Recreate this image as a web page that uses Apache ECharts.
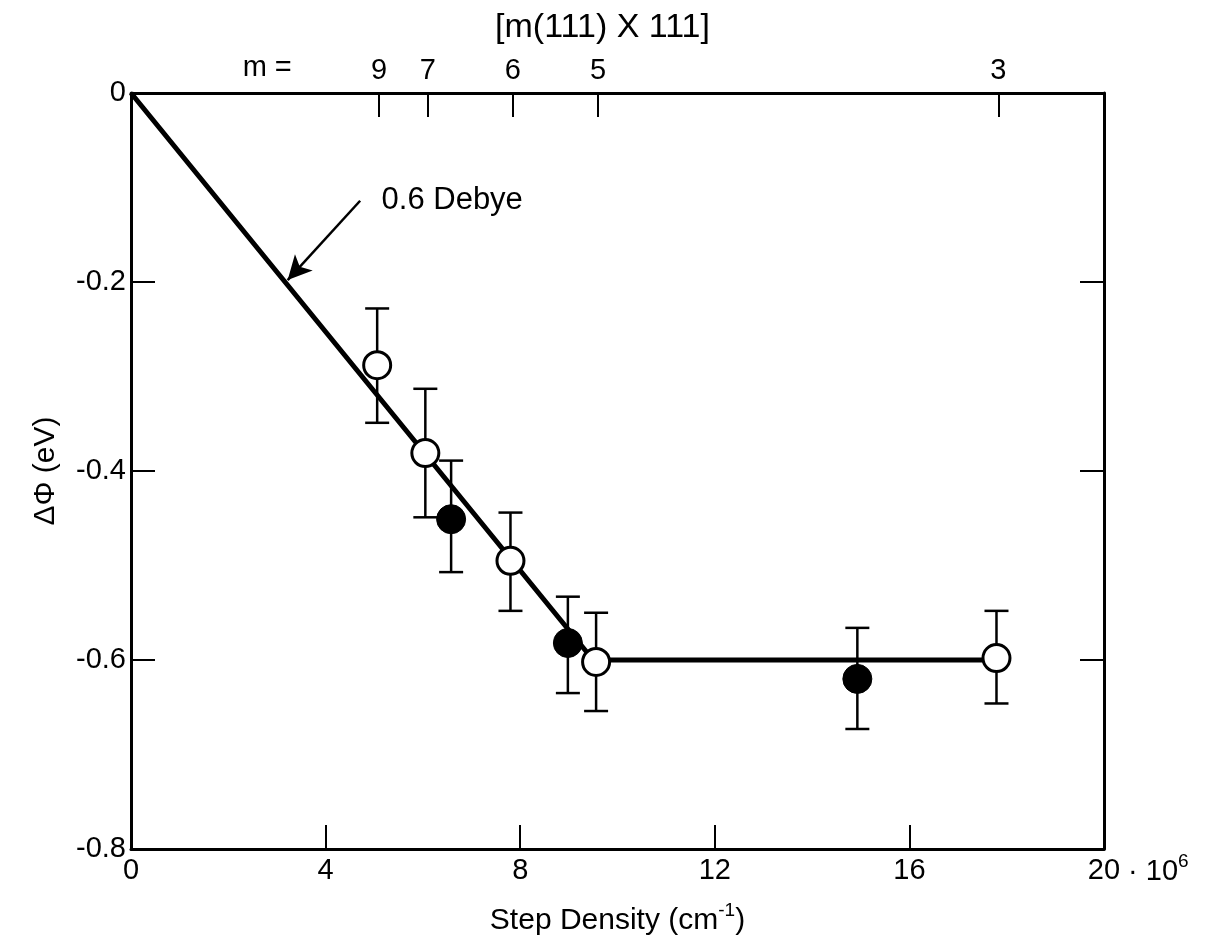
<!DOCTYPE html>
<html>
<head>
<meta charset="utf-8">
<script src="https://cdn.jsdelivr.net/npm/echarts@6/dist/echarts.min.js"></script>
<style>
  html, body { margin: 0; padding: 0; background: #fff; }
  #chart { width: 1205px; height: 951px; }
</style>
</head>
<body>
<div id="chart"></div>
<script>
// Step density in units of 10^6 cm^-1, work-function change in eV
const openX    = [5.06, 6.05, 7.80, 9.56, 17.79];
const openY    = [-0.288, -0.381, -0.495, -0.602, -0.598];
const openLow  = [-0.349, -0.449, -0.548, -0.654, -0.646];
const openHigh = [-0.228, -0.313, -0.444, -0.550, -0.548];

const filledX    = [6.58, 8.98, 14.93];
const filledY    = [-0.451, -0.582, -0.620];
const filledLow  = [-0.507, -0.635, -0.673];
const filledHigh = [-0.389, -0.533, -0.566];

// Linear dipole fit followed by the saturation plateau
const fitX = [0, 9.5, 17.79];
const fitY = [0, -0.60, -0.60];

// Terrace width m of the m(111) x (111) vicinal surfaces
const mPositions = [5.1, 6.1, 7.85, 9.6, 17.83];
const mLabels    = ['9', '7', '6', '5', '3'];

const FONT = '"Liberation Sans", Arial, Helvetica, sans-serif';
const FS = 29;
const BLACK = '#000';

const chart = echarts.init(document.getElementById('chart'), null, { renderer: 'canvas' });

const zip = (xs, ys) => xs.map((x, i) => [x, ys[i]]);
const errData = (xs, lo, hi) => xs.map((x, i) => [x, lo[i], hi[i]]);

function renderErrorBar(params, api) {
  const x = api.value(0);
  const top = api.coord([x, api.value(2)]);
  const bot = api.coord([x, api.value(1)]);
  const hw = 12;
  const st = { stroke: BLACK, lineWidth: 2.5 };
  return {
    type: 'group',
    children: [
      { type: 'line', shape: { x1: top[0], y1: top[1], x2: bot[0], y2: bot[1] }, style: st },
      { type: 'line', shape: { x1: top[0] - hw, y1: top[1], x2: top[0] + hw, y2: top[1] }, style: st },
      { type: 'line', shape: { x1: bot[0] - hw, y1: bot[1], x2: bot[0] + hw, y2: bot[1] }, style: st }
    ]
  };
}

const axisLineStyle = { color: BLACK, width: 3 };
const tickStyle = { color: BLACK, width: 2 };

const option = {
  animation: false,
  backgroundColor: '#fff',
  textStyle: { fontFamily: FONT, color: BLACK },
  title: {
    text: '[m(111) X 111]',
    left: 'center',
    top: 6,
    textStyle: { fontFamily: FONT, fontSize: 34, fontWeight: 'normal', color: BLACK }
  },
  grid: { left: 131, right: 101, top: 93, bottom: 102, containLabel: false },
  xAxis: [
    {
      type: 'value', position: 'bottom', min: 0, max: 20, interval: 4,
      axisLine: { show: true, onZero: false, lineStyle: axisLineStyle },
      axisTick: { show: true, inside: true, length: 24, lineStyle: tickStyle },
      splitLine: { show: false },
      axisLabel: {
        margin: 7, fontFamily: FONT, fontSize: FS, color: BLACK,
        formatter: v => String(v)
      },
      name: 'Step Density (cm{sup|-1})',
      nameLocation: 'middle',
      nameGap: 52,
      nameTextStyle: {
        fontFamily: FONT, fontSize: 30, color: BLACK,
        rich: { sup: { fontFamily: FONT, fontSize: 19, color: BLACK, padding: [0, 0, 20, 0] } }
      }
    },
    {
      type: 'value', position: 'top', min: 0, max: 20,
      axisLine: { show: true, onZero: false, lineStyle: axisLineStyle },
      axisTick: { show: true, inside: true, length: 24, lineStyle: tickStyle, customValues: mPositions },
      splitLine: { show: false },
      axisLabel: {
        show: true, margin: 8, fontFamily: FONT, fontSize: FS, color: BLACK,
        customValues: mPositions,
        formatter: v => {
          let best = 0;
          mPositions.forEach((p, i) => { if (Math.abs(p - v) < Math.abs(mPositions[best] - v)) best = i; });
          return mLabels[best];
        }
      }
    }
  ],
  yAxis: [
    {
      type: 'value', position: 'left', min: -0.8, max: 0, interval: 0.2,
      axisLine: { show: true, onZero: false, lineStyle: axisLineStyle },
      axisTick: { show: true, inside: true, length: 24, lineStyle: tickStyle },
      splitLine: { show: false },
      axisLabel: {
        margin: 5, fontFamily: FONT, fontSize: FS, color: BLACK,
        formatter: v => (Math.abs(v) < 1e-9 ? '0' : v.toFixed(1))
      },
      name: '\u0394\u03A6 (eV)',
      nameLocation: 'middle',
      nameRotate: 90,
      nameGap: 70,
      nameTextStyle: { fontFamily: FONT, fontSize: 30, color: BLACK }
    },
    {
      type: 'value', position: 'right', min: -0.8, max: 0, interval: 0.2,
      axisLine: { show: true, onZero: false, lineStyle: axisLineStyle },
      axisTick: { show: true, inside: true, length: 24, lineStyle: tickStyle },
      splitLine: { show: false },
      axisLabel: { show: false }
    }
  ],
  series: [
    {
      name: 'fit',
      type: 'line',
      data: zip(fitX, fitY),
      symbol: 'none',
      lineStyle: { color: BLACK, width: 5 },
      z: 2,
      markLine: {
        silent: true,
        symbol: ['none', 'arrow'],
        symbolSize: [18, 24],
        label: { show: false },
        lineStyle: { color: BLACK, width: 2.5, type: 'solid' },
        data: [[ { coord: [4.71, -0.114] }, { coord: [3.22, -0.198] } ]]
      }
    },
    {
      name: 'error-open',
      type: 'custom',
      renderItem: renderErrorBar,
      data: errData(openX, openLow, openHigh),
      encode: { x: 0, y: [1, 2] },
      z: 3
    },
    {
      name: 'error-filled',
      type: 'custom',
      renderItem: renderErrorBar,
      data: errData(filledX, filledLow, filledHigh),
      encode: { x: 0, y: [1, 2] },
      z: 3
    },
    {
      name: 'open',
      type: 'scatter',
      data: zip(openX, openY),
      symbol: 'circle',
      symbolSize: 27,
      itemStyle: { color: '#fff', borderColor: BLACK, borderWidth: 3, opacity: 1 },
      z: 4
    },
    {
      name: 'filled',
      type: 'scatter',
      data: zip(filledX, filledY),
      symbol: 'circle',
      symbolSize: 29,
      itemStyle: { color: BLACK, borderColor: BLACK, borderWidth: 1, opacity: 1 },
      z: 4
    }
  ]
};

chart.setOption(option);

// Text annotations placed through the axis scales
const toPx = (x, y) => chart.convertToPixel({ xAxisIndex: 0, yAxisIndex: 0 }, [x, y]);
const pTopLeft = toPx(0, 0);
const pMEq = toPx(2.8, 0);
const pTwenty = toPx(20, -0.8);
const pDebye = toPx(5.15, -0.114);

chart.setOption({
  graphic: [
    {
      type: 'text',
      x: pMEq[0], y: pTopLeft[1] - 25,
      style: { text: 'm =', fontFamily: FONT, fontSize: FS, fill: BLACK, align: 'center', verticalAlign: 'middle' }
    },
    {
      type: 'text',
      x: pTwenty[0] + 16, y: pTwenty[1] + 23,
      style: {
        text: ' \u00B7 10{s|6}', fontFamily: FONT, fontSize: FS, fill: BLACK,
        align: 'left', verticalAlign: 'middle',
        rich: { s: { fontFamily: FONT, fontSize: 19, fill: BLACK, padding: [0, 0, 20, 0] } }
      }
    },
    {
      type: 'text',
      x: pDebye[0], y: pDebye[1],
      style: { text: '0.6 Debye', fontFamily: FONT, fontSize: 31, fill: BLACK, align: 'left', verticalAlign: 'middle' }
    }
  ]
});
</script>
</body>
</html>
